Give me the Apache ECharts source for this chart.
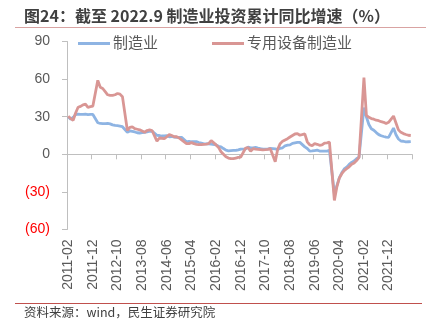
<!DOCTYPE html>
<html>
<head>
<meta charset="utf-8">
<script src="https://cdn.jsdelivr.net/npm/echarts@6/dist/echarts.min.js"></script>
<style>
  html, body { margin: 0; padding: 0; background: #fff; }
  #chart { width: 434px; height: 331px; }
</style>
</head>
<body>
<div id="chart"></div>
<script>
// Month labels, 2011-02 to 2022-09
const months = [];
for (let y = 2011; y <= 2022; y++) {
  for (let m = 1; m <= 12; m++) {
    if (y === 2011 && m < 2) continue;
    if (y === 2022 && m > 9) break;
    months.push(y + '-' + String(m).padStart(2, '0'));
  }
}

// Cumulative YoY growth (%), January not published (null)
const manufacturing = [
  30.0, 28.0, 29.5, 31.7, 32.0, 31.8, 31.9, 32.0, 31.6, 31.8, 31.8,         // 2011 Feb-Dec
  null, 25.2, 24.6, 24.4, 24.5, 24.6, 24.3, 23.5, 23.0, 22.8, 22.5, 22.0,   // 2012
  null, 17.6, 18.6, 18.2, 17.8, 17.2, 17.0, 17.3, 17.6, 17.9, 18.4, 18.5,   // 2013
  null, 15.1, 15.0, 14.6, 14.6, 14.8, 14.0, 14.2, 13.8, 13.6, 13.5, 13.5,   // 2014
  null, 10.0, 10.4, 10.0, 10.1, 10.1, 9.4, 8.9, 8.3, 8.3, 8.4, 8.1,         // 2015
  null, 7.5, 6.4, 6.0, 4.6, 3.3, 2.8, 3.0, 3.1, 3.1, 3.6, 4.2,              // 2016
  null, 4.3, 5.8, 5.2, 5.1, 5.5, 4.9, 4.5, 4.2, 4.1, 4.1, 4.8,              // 2017
  null, 4.3, 3.8, 4.8, 5.2, 6.8, 7.3, 7.5, 8.7, 9.1, 9.5, 9.5,              // 2018
  null, 5.9, 4.6, 2.5, 2.7, 3.0, 3.3, 2.6, 2.5, 2.6, 2.5, 3.1,              // 2019
  null, -31.5, -25.2, -18.8, -14.8, -11.7, -10.2, -8.1, -6.5, -5.3, -3.5, -2.2, // 2020
  null, 37.3, 29.8, 23.8, 20.4, 19.2, 17.3, 15.7, 14.8, 14.2, 13.7, 13.5,   // 2021
  null, 20.9, 15.6, 12.2, 10.6, 10.4, 9.9, 10.0, 10.1                       // 2022 Feb-Sep
];

const specialEquipment = [
  30.4, 28.5, 27.2, 33.0, 37.5, 38.2, 39.5, 40.0, 37.5, 38.0, 38.5,         // 2011 Feb-Dec
  null, 59.0, 53.5, 52.5, 50.0, 47.5, 47.0, 47.0, 47.5, 48.5, 48.0, 46.0,   // 2012
  null, 19.0, 21.5, 21.9, 20.5, 20.0, 19.5, 18.5, 17.5, 19.0, 19.5, 19.0,   // 2013
  null, 10.5, 13.0, 12.8, 12.5, 14.0, 15.8, 15.0, 14.0, 14.0, 13.0, 11.5,   // 2014
  null, 8.5, 8.5, 9.3, 8.5, 8.0, 7.8, 7.7, 8.0, 8.2, 8.5, 11.0,             // 2015
  null, 7.5, 5.5, 2.0, 0.0, -2.0, -3.0, -3.5, -3.5, -3.0, -2.5, -2.3,       // 2016
  null, 5.0, 5.3, 2.5, 4.5, 4.2, 4.0, 3.8, 3.6, 3.7, 4.0, 4.5,              // 2017
  null, -6.0, 4.0, 8.5, 10.5, 11.5, 12.5, 13.8, 15.0, 16.2, 16.5, 15.2,     // 2018
  null, 16.3, 10.0, 7.5, 7.0, 8.5, 8.0, 7.2, 7.5, 9.0, 9.2, 9.7,            // 2019
  null, -36.8, -26.0, -19.0, -15.5, -13.0, -11.5, -10.0, -8.0, -7.0, -5.0, -2.5, // 2020
  null, 61.3, 31.0, 29.5, 28.5, 28.0, 27.2, 26.8, 26.0, 25.5, 24.5, 25.5,   // 2021
  null, 30.5, 25.0, 19.5, 17.5, 16.5, 15.8, 15.2, 15.0                      // 2022 Feb-Sep
];

const yMin = -60, yMax = 90, yStep = 30;
const seriesNames = ['制造业', '专用设备制造业'];
const seriesColors = ['#8EB4E3', '#D99694'];

const textFont = '"Liberation Sans", "Noto Sans CJK SC", sans-serif';
const chart = echarts.init(document.getElementById('chart'), null, { renderer: 'canvas' });

const axisGray = '#BFBFBF';
const labelGray = '#595959';

chart.setOption({
  animation: false,
  backgroundColor: '#ffffff',
  textStyle: { fontFamily: textFont },
  grid: { left: 67, right: 22, top: 41.5, bottom: 101.5, containLabel: false },
  legend: {
    data: seriesNames,
    left: 78,
    top: 36,
    padding: 0,
    itemGap: 54,
    itemWidth: 32,
    itemHeight: 3,
    icon: 'rect',
    textStyle: { fontSize: 15, color: labelGray, fontFamily: textFont, padding: [0, 0, 0, -2] }
  },
  xAxis: [
    {
      // axis line and ticks sitting on zero
      type: 'category',
      data: months,
      boundaryGap: true,
      axisLine: { show: true, onZero: true, lineStyle: { color: axisGray, width: 1 } },
      axisTick: { show: true, interval: 9, length: 5, lineStyle: { color: axisGray } },
      axisLabel: { show: false },
      splitLine: { show: false }
    },
    {
      // month labels along the bottom edge
      type: 'category',
      data: months,
      position: 'bottom',
      boundaryGap: true,
      axisLine: { show: false, onZero: false },
      axisTick: { show: false },
      axisLabel: {
        interval: 9,
        rotate: 90,
        margin: 10,
        fontSize: 14,
        color: labelGray,
        fontFamily: textFont
      },
      splitLine: { show: false }
    }
  ],
  yAxis: {
    type: 'value',
    min: yMin,
    max: yMax,
    interval: yStep,
    axisLine: { show: true, onZero: false, lineStyle: { color: axisGray, width: 1 } },
    axisTick: { show: true, length: 5, lineStyle: { color: axisGray } },
    splitLine: { show: false },
    axisLabel: {
      margin: 17,
      fontSize: 14,
      fontFamily: textFont,
      color: function (v) { return v < 0 ? '#FF0000' : labelGray; },
      formatter: function (v) { return v < 0 ? '(' + Math.abs(v) + ')' : String(v); }
    }
  },
  series: [
    {
      name: seriesNames[0],
      type: 'line',
      xAxisIndex: 0,
      data: manufacturing,
      connectNulls: true,
      showSymbol: false,
      color: seriesColors[0],
      lineStyle: { width: 2.8, color: seriesColors[0] }
    },
    {
      name: seriesNames[1],
      type: 'line',
      xAxisIndex: 0,
      data: specialEquipment,
      connectNulls: true,
      showSymbol: false,
      color: seriesColors[1],
      lineStyle: { width: 2.8, color: seriesColors[1] }
    }
  ],
  graphic: [
    {
      type: 'text',
      left: 24,
      top: 8,
      style: {
        text: '图24：截至 2022.9 制造业投资累计同比增速（%）',
        font: 'bold 16px "Noto Sans CJK SC", sans-serif',
        fill: '#404040'
      }
    },
    {
      type: 'line',
      shape: { x1: 15, y1: 27.5, x2: 426, y2: 27.5 },
      style: { stroke: '#D9A3A2', lineWidth: 1.2 }
    },
    {
      type: 'line',
      shape: { x1: 15, y1: 303.5, x2: 422, y2: 303.5 },
      style: { stroke: '#C0504D', lineWidth: 1 }
    },
    {
      type: 'text',
      left: 24,
      top: 306,
      style: {
        text: '资料来源：wind，民生证券研究院',
        font: '12.5px "Noto Sans CJK SC", sans-serif',
        fill: '#404040'
      }
    }
  ]
});
</script>
</body>
</html>
